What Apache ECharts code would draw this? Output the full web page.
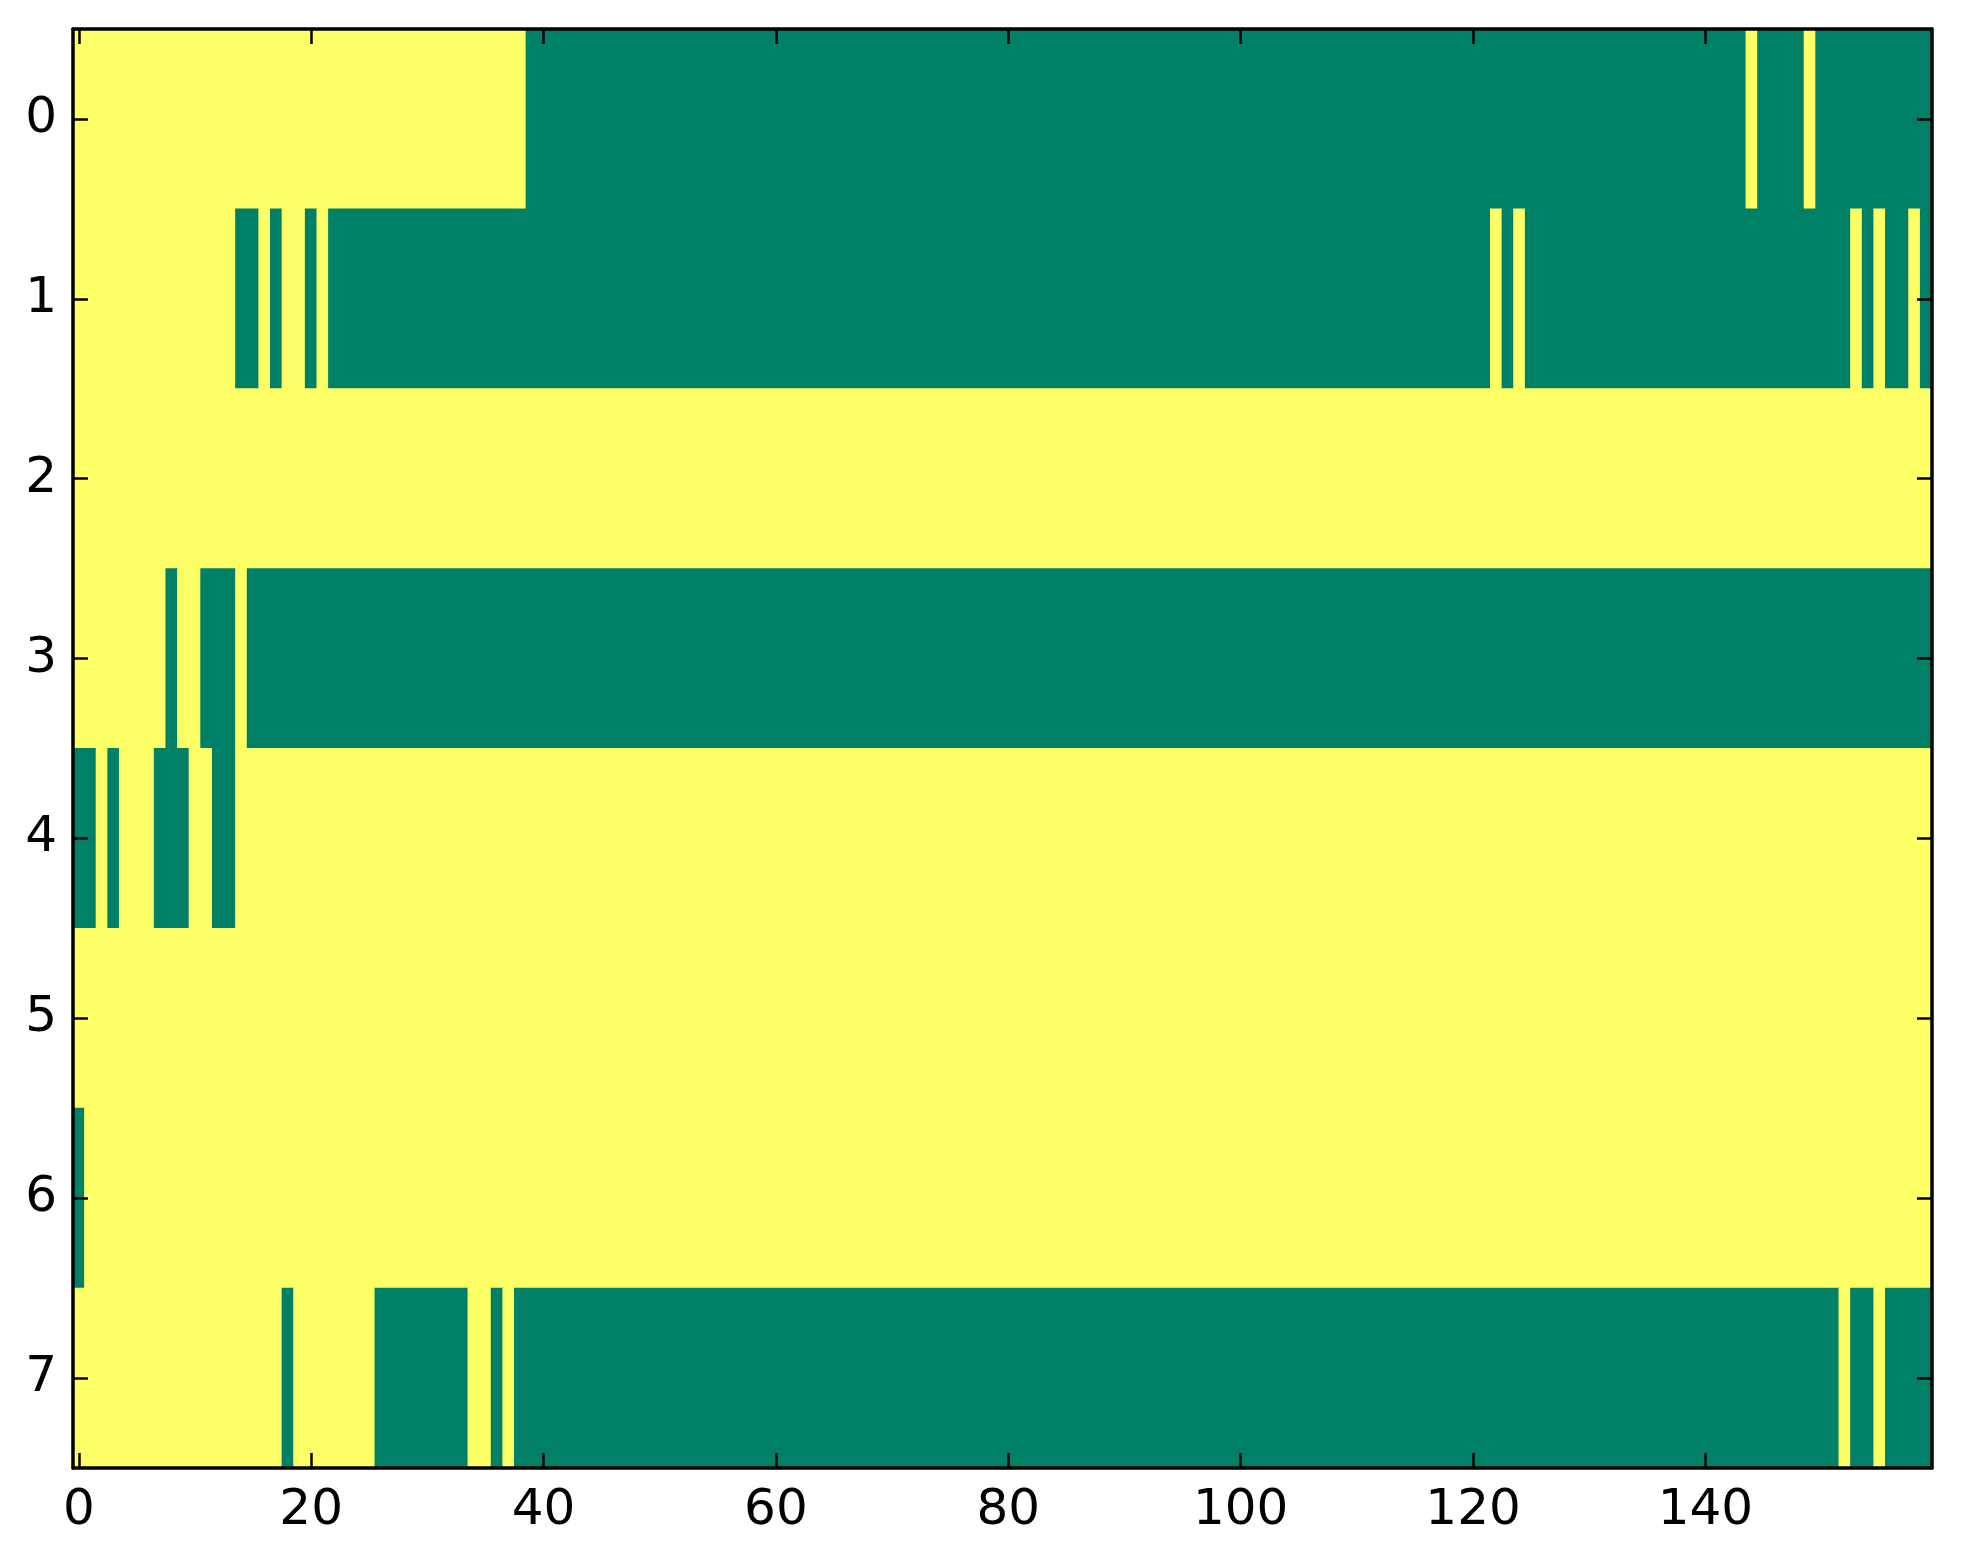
<!DOCTYPE html>
<html>
<head>
<meta charset="utf-8">
<script src="https://cdn.jsdelivr.net/npm/echarts@6/dist/echarts.min.js"></script>
<style>
  html, body { margin: 0; padding: 0; background: #ffffff; }
  #container { width: 1963px; height: 1564px; }
</style>
</head>
<body>
<div id="container"></div>
<script>
var dom = document.getElementById('container');
var myChart = echarts.init(dom, null, { renderer: 'canvas' });

// matrix is 8 rows x 160 columns, value 1 = yellow, 0 = green
var nCols = 160;
var rowLabels = ['0', '1', '2', '3', '4', '5', '6', '7'];
var xTicks = [0, 20, 40, 60, 80, 100, 120, 140];

// green (0) spans per row, inclusive column ranges; everything else is 1
var row0 = [[39, 143], [145, 148], [150, 159]];
var row1 = [[14, 15], [17, 17], [20, 20], [22, 121], [123, 123], [125, 152], [154, 154], [156, 157], [159, 159]];
var row2 = [];
var row3 = [[8, 8], [11, 13], [15, 159]];
var row4 = [[0, 1], [3, 3], [7, 9], [12, 13]];
var row5 = [];
var row6 = [[0, 0]];
var row7 = [[18, 18], [26, 33], [36, 36], [38, 151], [153, 154], [156, 159]];
var rows = [row0, row1, row2, row3, row4, row5, row6, row7];

var colGreen = '#008066';
var colYellow = '#ffff66';

var xCats = [];
for (var i = 0; i < nCols; i++) xCats.push(String(i));

// expand each row into cells, then pack into runs [start, end, row, value]
var runs = [];
rows.forEach(function (spans, r) {
    var cells = [];
    for (var c = 0; c < nCols; c++) cells.push(1);
    spans.forEach(function (s) {
        for (var c = s[0]; c <= s[1]; c++) cells[c] = 0;
    });
    var start = 0;
    for (var c = 1; c <= nCols; c++) {
        if (c === nCols || cells[c] !== cells[start]) {
            runs.push([start, c - 1, r, cells[start]]);
            start = c;
        }
    }
});

function isTick(index) {
    return xTicks.indexOf(index) !== -1;
}

var labelFont = { fontFamily: 'DejaVu Sans', fontSize: 50, color: '#000000' };
var lineStyle = { color: '#000000', width: 3.5 };
var tickStyle = { color: '#000000', width: 2.5 };

var option = {
    animation: false,
    backgroundColor: '#ffffff',
    grid: { left: 73, right: 31, top: 29, bottom: 96, containLabel: false },
    xAxis: [
        {
            type: 'category', data: xCats, position: 'bottom', z: 10,
            axisLine: { show: true, lineStyle: lineStyle },
            axisTick: { show: true, inside: true, length: 15, alignWithLabel: true, interval: isTick, lineStyle: tickStyle },
            axisLabel: Object.assign({ interval: isTick, margin: 18 }, labelFont),
            splitLine: { show: false }
        },
        {
            type: 'category', data: xCats, position: 'top', z: 10,
            axisLine: { show: true, lineStyle: lineStyle },
            axisTick: { show: true, inside: true, length: 15, alignWithLabel: true, interval: isTick, lineStyle: tickStyle },
            axisLabel: { show: false },
            splitLine: { show: false }
        }
    ],
    yAxis: [
        {
            type: 'category', data: rowLabels, inverse: true, position: 'left', z: 10,
            axisLine: { show: true, lineStyle: lineStyle },
            axisTick: { show: true, inside: true, length: 15, alignWithLabel: true, interval: 0, lineStyle: tickStyle },
            axisLabel: Object.assign({ interval: 0, margin: 16 }, labelFont),
            splitLine: { show: false }
        },
        {
            type: 'category', data: rowLabels, inverse: true, position: 'right', z: 10,
            axisLine: { show: true, lineStyle: lineStyle },
            axisTick: { show: true, inside: true, length: 15, alignWithLabel: true, interval: 0, lineStyle: tickStyle },
            axisLabel: { show: false },
            splitLine: { show: false }
        }
    ],
    series: [{
        type: 'custom',
        xAxisIndex: 0,
        yAxisIndex: 0,
        clip: true,
        silent: true,
        encode: { x: [0, 1], y: 2 },
        data: runs,
        renderItem: function (params, api) {
            var p0 = api.coord([api.value(0), api.value(2)]);
            var p1 = api.coord([api.value(1), api.value(2)]);
            var size = api.size([1, 1]);
            var x0 = p0[0] - size[0] / 2;
            var x1 = p1[0] + size[0] / 2;
            return {
                type: 'rect',
                shape: { x: x0 - 0.5, y: p0[1] - size[1] / 2 - 0.5, width: x1 - x0 + 1, height: size[1] + 1 },
                style: { fill: api.value(3) ? colYellow : colGreen }
            };
        }
    }]
};

myChart.setOption(option);
</script>
</body>
</html>
